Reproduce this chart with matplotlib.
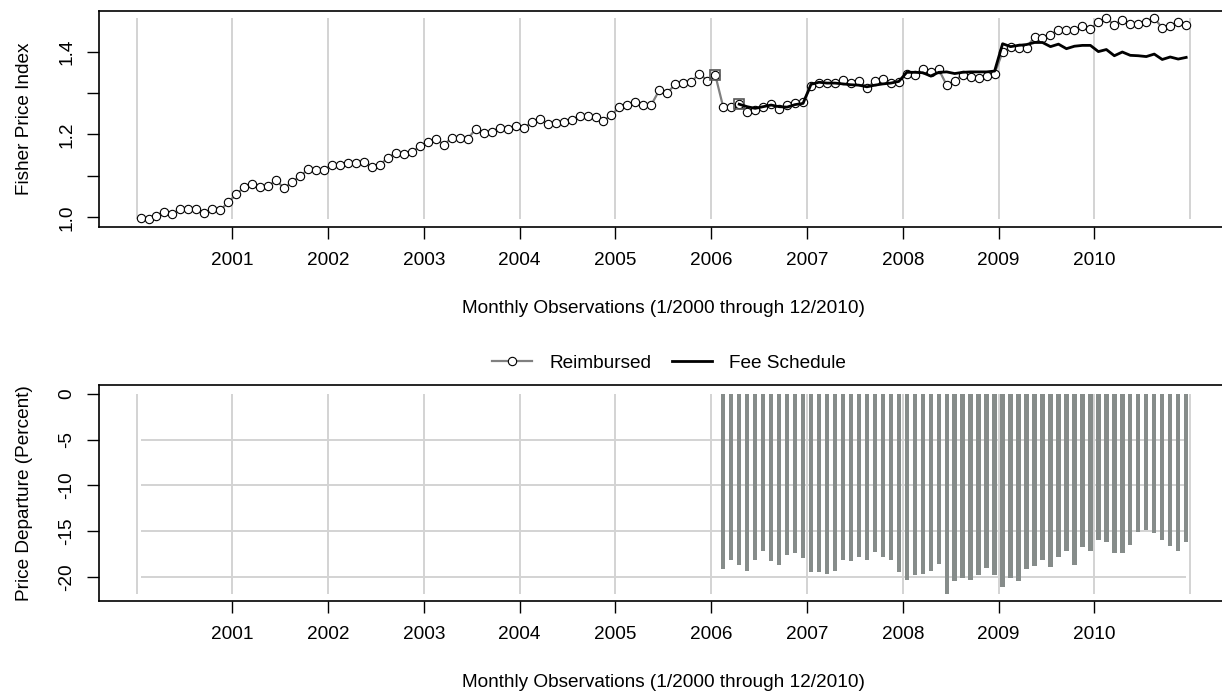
import numpy as np
import matplotlib
matplotlib.use("Agg")
import matplotlib.pyplot as plt
from matplotlib.lines import Line2D

plt.rcParams['font.family'] = ['Liberation Sans', 'DejaVu Sans']
plt.rcParams['axes.unicode_minus'] = False

# monthly fisher index, 1/2000 .. 12/2010
reimbursed = [
    0.998, 0.995, 1.004, 1.013, 1.007, 1.021, 1.021, 1.021, 1.010, 1.021, 1.018, 1.036,
    1.056, 1.073, 1.081, 1.073, 1.076, 1.089, 1.070, 1.086, 1.099, 1.116, 1.113, 1.115,
    1.127, 1.127, 1.132, 1.132, 1.134, 1.121, 1.127, 1.144, 1.155, 1.152, 1.158, 1.171,
    1.181, 1.190, 1.175, 1.192, 1.192, 1.190, 1.213, 1.204, 1.207, 1.216, 1.213, 1.221,
    1.216, 1.229, 1.238, 1.225, 1.228, 1.229, 1.236, 1.244, 1.244, 1.242, 1.233, 1.247,
    1.266, 1.272, 1.278, 1.272, 1.272, 1.307, 1.301, 1.321, 1.324, 1.327, 1.347, 1.330,
    1.344, 1.266, 1.267, 1.273, 1.255, 1.258, 1.266, 1.273, 1.262, 1.271, 1.277, 1.278,
    1.316, 1.325, 1.323, 1.325, 1.331, 1.325, 1.330, 1.313, 1.328, 1.333, 1.324, 1.327,
    1.345, 1.344, 1.359, 1.351, 1.357, 1.319, 1.330, 1.344, 1.339, 1.337, 1.340, 1.347,
    1.399, 1.410, 1.409, 1.409, 1.436, 1.433, 1.441, 1.452, 1.452, 1.452, 1.462, 1.455,
    1.471, 1.480, 1.465, 1.476, 1.467, 1.467, 1.471, 1.480, 1.458, 1.461, 1.471, 1.465,
]

# fee schedule index starts 4/2006 (month 75)
fee_start = 75
fee_schedule = [
    1.273, 1.267, 1.263, 1.267, 1.271, 1.267, 1.266, 1.272, 1.275,
    1.321, 1.326, 1.324, 1.324, 1.322, 1.320, 1.319, 1.315, 1.319, 1.322, 1.324, 1.328,
    1.350, 1.350, 1.349, 1.341, 1.350, 1.351, 1.347, 1.350, 1.351, 1.351, 1.351, 1.353,
    1.419, 1.412, 1.415, 1.417, 1.422, 1.422, 1.412, 1.418, 1.407, 1.413, 1.415, 1.415,
    1.400, 1.405, 1.390, 1.399, 1.391, 1.390, 1.388, 1.394, 1.381, 1.387, 1.382, 1.386,
]

# months flagged with a square
flagged = [72, 75]

# percent departure, 2/2006 .. 12/2010
dep_start = 73
departure = [
    -19.16, -18.21, -18.76, -19.42, -18.11, -17.23, -18.32, -18.76, -17.67, -17.45, -18.00,
    -19.53, -19.53, -19.71, -19.42, -18.11, -18.32, -17.89, -18.21, -17.34, -17.89, -18.11, -19.53,
    -20.40, -19.85, -19.74, -19.42, -18.65, -21.93, -20.51, -20.18, -20.40, -19.85, -19.09, -19.85,
    -21.17, -20.18, -20.51, -19.20, -18.87, -18.21, -18.98, -17.89, -17.23, -18.76, -16.79, -17.23,
    -16.03, -16.25, -17.45, -17.45, -16.47, -15.15, -14.83, -15.26, -16.03, -16.58, -17.23, -16.25,
]

years = list(range(2001, 2011))
xlab = "Monthly Observations (1/2000 through 12/2010)"

reimbursed = np.array(reimbursed)
fee_schedule = np.array(fee_schedule)
departure = np.array(departure)
n = len(reimbursed)
x = np.arange(n) + 0.5
x_fee = x[fee_start:fee_start + len(fee_schedule)]
x_dep = x[dep_start:dep_start + len(departure)]
year_pos = np.arange(0, n + 1, 12)

FS = 13.7
GRID = '#d3d3d3'

fig = plt.figure(figsize=(12.22, 6.94), dpi=100)
ax1 = fig.add_axes([98.7 / 1222, 1 - 227 / 694, 1129.3 / 1222, 216 / 694])
ax2 = fig.add_axes([98.7 / 1222, 1 - 601 / 694, 1129.3 / 1222, 216 / 694])

span = x[-1] - x[0]
for ax in (ax1, ax2):
    ax.set_xlim(x[0] - 0.04 * span, x[-1] + 0.04 * span)
    ax.set_xticks(year_pos[1:-1])
    ax.set_xticklabels([str(y) for y in years], fontsize=FS)
    ax.tick_params(axis='x', length=8.3, width=1.0, pad=10)
    ax.tick_params(axis='y', length=8.3, width=1.0, pad=8.6)
    ax.spines['right'].set_visible(False)
    for s in ('top', 'bottom', 'left'):
        ax.spines[s].set_linewidth(1.2)
    ax.set_xlabel(xlab, fontsize=FS)
    ax.xaxis.set_label_coords(0.5, -0.338)
    ax.yaxis.set_label_coords(-0.0582, 0.5)

# top panel
ax1.vlines(year_pos, reimbursed.min(), reimbursed.max(), color=GRID, lw=1.4, zorder=0)
ax1.plot(x, reimbursed, color='#808080', lw=1.6, marker='o', ms=6,
         mfc='white', mec='black', mew=0.8, zorder=2)
ax1.plot(x[flagged], reimbursed[flagged], ls='none', marker='s', ms=7.5,
         mfc='none', mec='#555555', mew=1.2, zorder=3)
ax1.plot(x_fee, fee_schedule, color='black', lw=2.0, zorder=4)
ax1.set_ylim(0.9766, 1.498)
ax1.set_yticks([1.0, 1.1, 1.2, 1.3, 1.4])
ax1.set_yticklabels(['1.0', '', '1.2', '', '1.4'], fontsize=FS, rotation=90, va='center')
ax1.set_ylabel("Fisher Price Index", fontsize=FS)

# bottom panel
ax2.vlines(year_pos, departure.min(), 0, color=GRID, lw=1.4, zorder=0)
ax2.hlines([-5, -10, -15, -20], x[0], x[-1], color=GRID, lw=1.4, zorder=0)
ax2.bar(x_dep, departure, width=0.55, color='#868c8a', zorder=2)
ax2.set_ylim(-22.65, 0.98)
ax2.set_yticks([0, -5, -10, -15, -20])
ax2.set_yticklabels(['0', '-5', '-10', '-15', '-20'], fontsize=FS, rotation=90, va='center')
ax2.set_ylabel("Price Departure (Percent)", fontsize=FS)

handles = [
    Line2D([], [], color='#808080', lw=1.6, marker='o', ms=6,
           mfc='white', mec='black', mew=0.8),
    Line2D([], [], color='black', lw=2.0),
]
fig.legend(handles, ['Reimbursed', 'Fee Schedule'], loc='center',
           bbox_to_anchor=(669 / 1222, 1 - 363 / 694), ncol=2, frameon=False,
           fontsize=FS, handlelength=2.1, handletextpad=0.9, columnspacing=1.1)

fig.savefig("out.png", dpi=100)
